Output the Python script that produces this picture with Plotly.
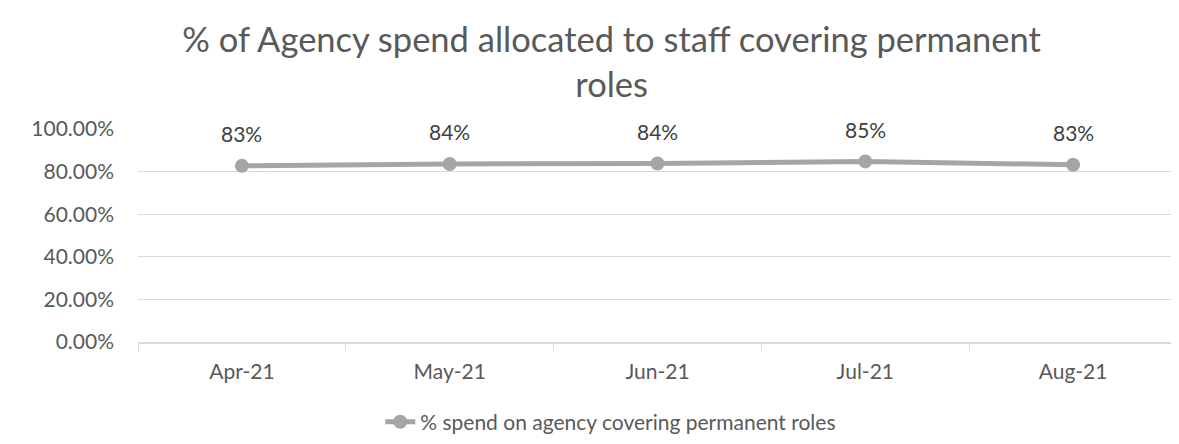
import plotly.graph_objects as go

months = ["Apr-21", "May-21", "Jun-21", "Jul-21", "Aug-21"]
pct_values = [0.827, 0.836, 0.838, 0.848, 0.832]
y_ticks = [0, 0.2, 0.4, 0.6, 0.8, 1.0]
series_name = "% spend on agency covering permanent roles"
title_text = "% of Agency spend allocated to staff covering permanent<br>roles"

FONT = "Lato"
TXT = "#595959"
LINE = "#A5A5A5"
GRID = "#D9D9D9"

fig = go.Figure()
fig.add_trace(go.Scatter(
    x=months, y=pct_values, name=series_name,
    mode="lines+markers",
    line=dict(color=LINE, width=5),
    marker=dict(color=LINE, size=14),
    cliponaxis=False,
))

for m, v in zip(months, pct_values):
    fig.add_annotation(x=m, y=v, text=f"{round(v*100)}%", showarrow=False,
                       yshift=32, yanchor="middle",
                       font=dict(family=FONT, size=21, color="#404040"))

fig.update_layout(
    width=1179, height=444,
    margin=dict(l=130, r=10, t=121, b=97),
    paper_bgcolor="white", plot_bgcolor="white",
    font=dict(family=FONT, color=TXT, size=20),
    title=dict(text=title_text, x=0.512, xanchor="center", xref="container",
               y=0.90, yanchor="middle", yref="container",
               font=dict(family=FONT, size=34.5, color=TXT)),
    showlegend=True,
    legend=dict(orientation="h", x=0.455, xanchor="center", y=-0.376, yanchor="middle",
                font=dict(family=FONT, size=21, color=TXT)),
    xaxis=dict(type="category", range=[-0.5, 4.5], showgrid=False,
               showline=True, linecolor=GRID, linewidth=1.5,
               ticks="outside", tickson="boundaries", ticklen=7, tickcolor=GRID,
               ticklabelstandoff=10,
               tickfont=dict(family=FONT, size=21, color=TXT)),
    yaxis=dict(range=[0, 1.0], tickvals=y_ticks, tickformat=".2%",
               showgrid=True, gridcolor=GRID, gridwidth=1.3, zeroline=False,
               showline=False, ticks="", ticklabelstandoff=23,
               tickfont=dict(family=FONT, size=21, color=TXT)),
)

fig.write_html("out.html")
